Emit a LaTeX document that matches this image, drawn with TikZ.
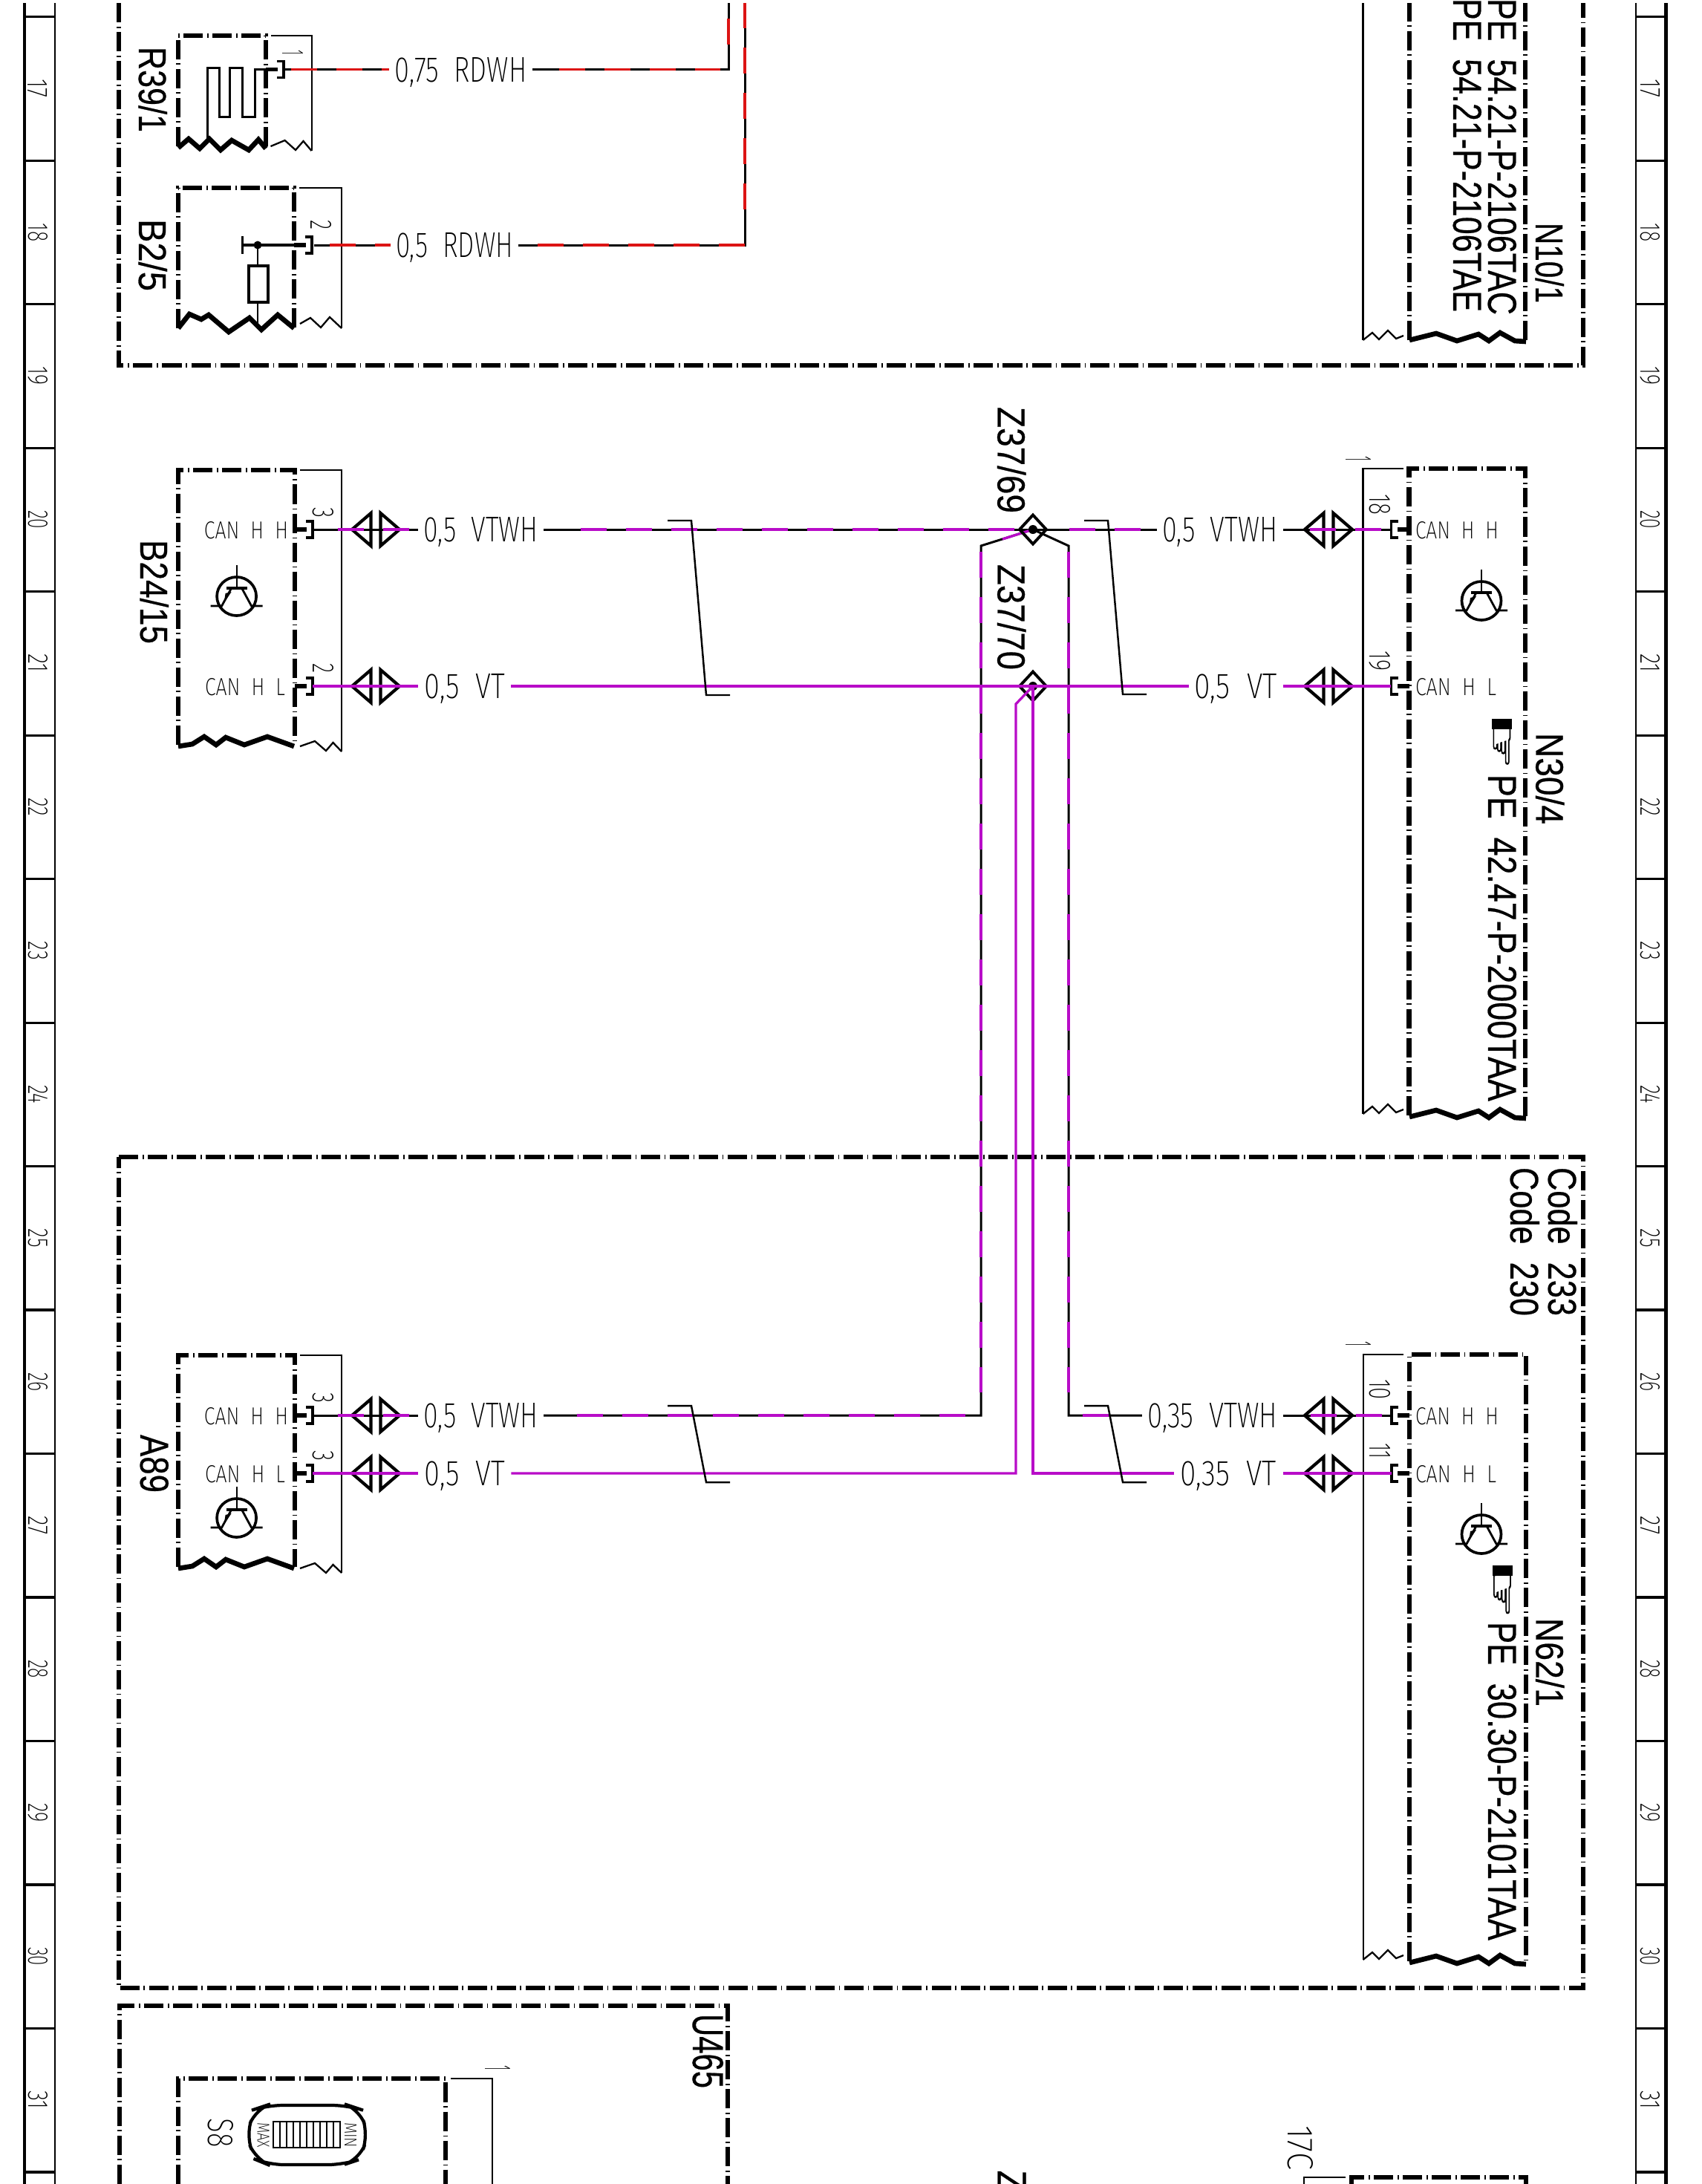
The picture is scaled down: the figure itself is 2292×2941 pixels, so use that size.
\documentclass[tikz,border=0pt]{standalone}
\usepackage{fontspec}
\usepackage{graphicx}
\setmainfont{Liberation Sans}[FakeBold=0.5]
\newfontfamily\thinf{Fira Sans}[UprightFont=* ExtraLight]
\newfontfamily\handf{DejaVu Sans}[FakeBold=1.5]
\newlength\pxu \setlength\pxu{0.01cm}
\definecolor{wv}{HTML}{B80CC8}
\definecolor{wr}{HTML}{DC1414}
\tikzset{
  frameline/.style={line width=1.5pt,dash pattern=on 7.4pt off 1.7pt on .45pt off 1.55pt,line cap=butt},
  compline/.style={line width=1.75pt,dash pattern=on 7.4pt off 1.7pt on .45pt off 1.55pt,line cap=butt},
  thinline/.style={line width=.65pt},
  zigthick/.style={line width=1.9pt,line join=miter},
  zigthin/.style={line width=.65pt,line join=miter},
  wblack/.style={line width=.85pt,black,line join=miter},
  wviolet/.style={line width=.95pt,wv,dash pattern=on 10pt off 7.35pt},
  wred/.style={line width=.95pt,wr,dash pattern=on 10pt off 7.35pt},
  wvsolid/.style={line width=.95pt,wv,line join=miter},
  twistline/.style={line width=.7pt,black,line join=miter},
  flat/.style={inner sep=0pt,outer sep=0pt,text depth=0pt},
  rotlab/.style={flat,rotate=-90},
  wirelab/.style={flat},
}
\newcommand\wl[6]{\node[wirelab,minimum width=#5\pxu] (#1) at (#2,#3) {\thinf\resizebox{#4\pxu}{33\pxu}{#6}};}
\newcommand\canlab[5]{\node[flat] (#1) at (#2,#3) {\thinf\resizebox{#4\pxu}{23\pxu}{#5}};}
\newcommand\rt[6]{\node[rotlab] (#1) at (#2,#3) {\thinf\resizebox{#4\pxu}{#5\pxu}{#6}};}
\newcommand\rb[6]{\node[rotlab] (#1) at (#2,#3) {\resizebox{#4\pxu}{#5\pxu}{#6}};}
\newcommand\pinL[2]{%
  \draw[line width=1.5pt] (#1,#2)--(#1+16,#2);
  \draw[line width=1pt,line join=miter] (#1+15,#2-11)--(#1+24,#2-11)--(#1+24,#2+11)--(#1+15,#2+11);}
\newcommand\pinR[2]{%
  \draw[line width=1.5pt] (#1,#2)--(#1-16,#2);
  \draw[line width=1pt,line join=miter] (#1-15,#2-11)--(#1-24,#2-11)--(#1-24,#2+11)--(#1-15,#2+11);}
\newcommand\dconn[2]{%
  \draw[line width=1.2pt,line join=miter] (#1+25.5,#2-22)--(#1,#2)--(#1+25.5,#2+22)--cycle;
  \draw[line width=1.2pt,line join=miter] (#1+38.5,#2-22)--(#1+64,#2)--(#1+38.5,#2+22)--cycle;}
\newcommand\transistor[2]{%
  \begin{scope}[shift={(#1,#2)}]
    \draw[line width=1.05pt] (0,0) ellipse (26.5 and 26);
    \draw[line width=.6pt] (0,-42)--(0,-11);
    \draw[line width=1pt] (-14,-11)--(14,-11);
    \draw[line width=.8pt] (-7,-11)--(-20,13)--(-35,13);
    \draw[line width=.8pt] (7,-11)--(20,13)--(35,13);
    \fill (-17,9)--(-7,-6)--(-15,-4)--cycle;
  \end{scope}}
\newcommand\leftzig[1]{%
  \draw[zigthick] (240,#1+2)--(259,#1-1)--(275,#1-11)--(291,#1)--(304,#1-10)--(329,#1)--(360,#1-11)--(396,#1+2);}
\newcommand\leftthin[2]{%
  \draw[zigthin] (404,#1+2)--(424,#1-5)--(439,#1+8)--(448.5,#1-3)--(460,#2);}
\newcommand\rightzig[2]{%
  \draw[zigthick] (1898,#1-2)--(1934,#1-11)--(1962,#1-1)--(1991,#1-10)--(2005,#1-1)--(2020,#1-12)--(2040,#1-1)--(2055,#1);
  \draw[zigthin] (1835.5,#2)--(1848,#2-10)--(1857,#2-1)--(1869,#2-13)--(1880,#2-2)--(1890,#2-6);}
\newcommand\junction[1]{%
  \draw[line width=1.1pt,shift={(#1)}] (0,-19.5)--(18,0)--(0,19.5)--(-18,0)--cycle;
  \fill[shift={(#1)}] (0,0) circle (6);}
\newcommand\twist[3]{\draw[twistline] (#1,#2)--(#1+32,#2)--(#1+52,#3)--(#1+84,#3);}
\newcommand\cuff[2]{\fill (#1,#2) rectangle (#1+27,#2+14);}
\begin{document}
\begin{tikzpicture}[x=0.01cm,y=-0.01cm]
\useasboundingbox (0,0) rectangle (2292,2941);
% ---- side rails
\draw[line width=1.4pt] (33,4)--(33,2941);
\draw[line width=.6pt] (74,4)--(74,2941);
\draw[line width=.6pt] (2203,4)--(2203,2941);
\draw[line width=1.4pt] (2243.5,4)--(2243.5,2941);
\foreach \i in {0,...,15}{
  \draw[line width=.9pt] (33,22.7+193.48*\i)--(74,22.7+193.48*\i);
  \draw[line width=.9pt] (2203,22.7+193.48*\i)--(2243.5,22.7+193.48*\i);
}
\foreach \n [count=\i from 0] in {17,18,19,20,21,22,23,24,25,26,27,28,29,30,31}{
  \node[rotlab] (rl\n) at (51,119.4+193.48*\i) {\thinf\resizebox{25\pxu}{26\pxu}{\n}};
  \node[rotlab] (rr\n) at (2222,119.4+193.48*\i) {\thinf\resizebox{25\pxu}{26\pxu}{\n}};
}
% ---- frames
\draw[frameline] (160,4)--(160,492)--(2132,492)--(2132,4);
\draw[frameline] (160,1558)--(2132,1558)--(2132,2677)--(160,2677)--cycle;
\draw[frameline] (161,2941)--(161,2701)--(980,2701)--(980,2941);
% ---- R39/1
\draw[compline] (240,197)--(240,48)--(358,48)--(358,197);
\draw[zigthick] (240,199)--(254,187)--(269,200)--(282,187)--(297,202)--(312,189)--(335,202)--(348,188)--(358,200);
\draw[thinline,line join=miter] (365,48)--(420,48)--(420,203);
\draw[zigthin] (364.5,197)--(383.6,189)--(398,202)--(408.5,190)--(419.5,203);
\draw[line width=.75pt,line join=miter] (279.4,187)--(279.4,91.7)--(295.6,91.7)--(295.6,157.3)--(309.5,157.3)--(309.5,91.7)--(326.4,91.7)--(326.4,157.3)--(343.2,157.3)--(343.2,93.5)--(358,93.5);
\pinL{358}{93.5}
% ---- B2/5
\draw[compline] (240,442)--(240,253)--(396,253)--(396,442);
\draw[zigthick] (240,442)--(255,423)--(271,430)--(281,424)--(308,447)--(336,428)--(352,444)--(374,424)--(396,442);
\draw[thinline,line join=miter] (403,253)--(460,253)--(460,442);
\draw[zigthin] (404,436)--(418,428)--(432,441)--(444,427)--(460,442);
\draw[line width=1.2pt] (326.4,330)--(396,330);
\draw[line width=.85pt] (326.4,318)--(326.4,342);
\fill (347,330) circle (5.5);
\draw[line width=.6pt] (347,330)--(347,358);
\draw[line width=.6pt] (347,407)--(347,443);
\draw[line width=1pt] (335,358) rectangle (361,407);
\pinL{396}{330}
% ---- B24/15
\draw[compline] (240,1003)--(240,633)--(397,633)--(397,1003);
\leftzig{1003}
\draw[thinline,line join=miter] (404,633)--(460,633)--(460,1012);
\leftthin{1003}{1012}
\transistor{318.6}{803}
\pinL{397}{713}\pinL{397}{924}
% ---- A89
\draw[compline] (240,2110)--(240,1825)--(397,1825)--(397,2110);
\leftzig{2110}
\draw[thinline,line join=miter] (404,1825)--(460,1825)--(460,2118);
\leftthin{2110}{2118}
\transistor{318.6}{2044}
\pinL{397}{1906}\pinL{397}{1984}
% ---- N10/1
\draw[compline] (1898,458)--(1898,4);
\draw[compline] (2054,458)--(2054,4);
\draw[thinline] (1835.5,4)--(1835.5,458);
\rightzig{460}{458}
% ---- N30/4
\draw[compline] (1897.5,1502)--(1897.5,631)--(2054,631)--(2054,1504);
\draw[thinline,line join=miter] (1890,631)--(1835.5,631)--(1835.5,1500);
\rightzig{1506}{1500}
\transistor{1995}{809}
\pinR{1897.5}{713}\pinR{1897.5}{924}
% ---- N62/1
\draw[compline] (1898,2641)--(1898,1824)--(2055,1824)--(2055,2643);
\draw[thinline,line join=miter] (1890,1824)--(1836,1824)--(1836,2639);
\rightzig{2645}{2639}
\transistor{1995}{2066}
\pinR{1898}{1906}\pinR{1898}{1984}
% ---- S8
\draw[compline] (240,2941)--(240,2799)--(600,2799)--(600,2941);
\draw[thinline,line join=miter] (607,2799)--(663,2799)--(663,2941);
\draw[line width=1.2pt,rounded corners=6pt] (359,2835)--(469,2835)--(484,2840)--(496,2875)--(484,2908)--(463,2915)--(361,2915)--(344,2908)--(331,2875)--(344,2840)--cycle;
\draw[line width=.75pt] (368,2857) rectangle (458,2892);
\foreach \k in {1,...,9}{\draw[line width=.4pt] (368+9*\k,2857)--(368+9*\k,2892);}
% ---- 17C box
\draw[compline] (1820,2941)--(1820,2932)--(2055,2932)--(2055,2941);
\draw[thinline,line join=miter] (1812,2932)--(1756,2932)--(1756,2941);
% ---- connector symbols
\dconn{474}{713}\dconn{474}{924}\dconn{474}{1906}\dconn{474}{1984}
\dconn{1757}{713}\dconn{1757}{924}\dconn{1757}{1906}\dconn{1757}{1984}
% ---- wire labels
\wl{w1}{620.5}{93.5}{178}{193}{0,75~~RDWH}
\wl{w2}{612}{330}{158}{172}{0,5~~RDWH}
\wl{w3}{647.5}{713}{154}{169}{0,5~~VTWH}
\wl{w4}{625.7}{924}{108}{125.5}{0,5~~VT}
\wl{w5}{1642.8}{713}{155}{169.6}{0,5~~VTWH}
\wl{w6}{1664.3}{924}{111}{126.6}{0,5~~VT}
\wl{w7}{647.5}{1906}{154}{169}{0,5~~VTWH}
\wl{w8}{625.7}{1984}{108}{125.5}{0,5~~VT}
\wl{w9}{1632.8}{1906}{175}{189.7}{0,35~~VTWH}
\wl{w10}{1654.3}{1984}{129}{146.7}{0,35~~VT}
% ---- wire coordinates
\coordinate (Ja) at (1391,713);
\coordinate (Jb) at (1391,924);
\coordinate (pR) at (381,93.5);
\coordinate (pB) at (423,330);
\coordinate (cR) at (981,93.5);
\coordinate (tR) at (981,4);
\coordinate (cB) at (1003,330);
\coordinate (tB) at (1003,4);
\coordinate (p1) at (421,713);
\coordinate (p2) at (421,924);
\coordinate (p3) at (421,1906);
\coordinate (p4) at (421,1984);
\coordinate (q1) at (1873,713);
\coordinate (q2) at (1873,924);
\coordinate (q3) at (1874,1906);
\coordinate (q4) at (1874,1984);
\coordinate (dLa) at (1321,735);
\coordinate (dLb) at (1321,1906);
\coordinate (dRa) at (1439,735);
\coordinate (dRb) at (1439,1906);
\coordinate (dMa) at (1368,948);
\coordinate (dMb) at (1368,1984);
\coordinate (dNb) at (1391,1984);
% ---- red wires
\draw[wblack] (pR)--(w1.west);
\draw[wred] (392,93.5)--(w1.west);
\draw[wblack] (w1.east)--(cR)--(tR);
\draw[wred] (753,93.5)--(970,93.5);
\draw[wred] (981,60)--(981,25);
\draw[wblack] (pB)--(w2.west);
\draw[wred] (444,330)--(w2.west);
\draw[wblack] (w2.east)--(cB)--(tB);
\draw[wred] (724,330)--(cB);
\draw[wred] (1003,282)--(tB);
% ---- VT/WH wires
\draw[wblack] (p1)--(w3.west);
\draw[wviolet] (455,713)--(w3.west);
\draw[wblack] (w3.east)--(Ja);
\draw[wviolet] (781.5,713)--(Ja);
\draw[wblack] (Ja)--(w5.west);
\draw[wviolet] (1439.5,713)--(w5.west);
\draw[wblack] (w5.east)--(q1);
\draw[wviolet] (1764,713)--(q1);
% drops from Z37/69
\draw[wblack] (Ja)--(dLa)--(dLb)--(w7.east);
\draw[wvsolid] (Ja)--(1350,726);
\draw[wviolet] (1321,743)--(1321,1875);
\draw[wviolet] (777,1906)--(1300,1906);
\draw[wblack] (p3)--(w7.west);
\draw[wviolet] (455,1906)--(w7.west);
\draw[wblack] (Ja)--(dRa)--(dRb)--(w9.west);
\draw[wviolet] (1439,743)--(1439,1875);
\draw[wviolet] (1458,1906)--(1493.5,1906);
\draw[wblack] (w9.east)--(q3);
\draw[wviolet] (1765,1906)--(q3);
% ---- junctions
\junction{Ja}\junction{Jb}
% ---- VT wires
\draw[wvsolid] (p2)--(w4.west);
\draw[wvsolid] (w4.east)--(Jb);
\draw[wvsolid] (Jb)--(w6.west);
\draw[wvsolid] (w6.east)--(q2);
\draw[wvsolid] (p4)--(w8.west);
\draw[wvsolid] (w8.east)--(dMb)--(dMa)--(Jb);
\draw[wvsolid] (Jb)--(dNb)--(w10.west);
\draw[wvsolid] (w10.east)--(q4);
% ---- twists
\twist{899}{701}{936}
\twist{1460}{701}{935}
\twist{899}{1893}{1996}
\twist{1460}{1893}{1996}
% ---- can labels
\canlab{c1}{331.5}{713.5}{113}{CAN~~H~~H}
\canlab{c2}{330}{924.5}{108}{CAN~~H~~L}
\canlab{c3}{331.5}{1906.5}{113}{CAN~~H~~H}
\canlab{c4}{330}{1984.5}{108}{CAN~~H~~L}
\canlab{c5}{1962}{713.5}{112}{CAN~~H~~H}
\canlab{c6}{1960.5}{924.5}{109}{CAN~~H~~L}
\canlab{c7}{1962}{1906.5}{112}{CAN~~H~~H}
\canlab{c8}{1960.5}{1984.5}{109}{CAN~~H~~L}
% ---- pin numbers
\rt{n1}{394}{71}{7}{28}{1}
\rt{n2}{432}{303}{13}{28}{2}
\rt{n3}{435}{690}{14}{28}{3}
\rt{n4}{435}{900}{13}{28}{2}
\rt{n5}{435}{1882}{14}{28}{3}
\rt{n6}{435}{1960}{14}{28}{3}
\rt{n7}{1858}{679}{28}{28}{18}
\rt{n8}{1858}{890}{27}{28}{19}
\rt{n9}{1858}{1871}{28}{28}{10}
\rt{n10}{1858}{1954}{22}{28}{11}
\rt{n11}{1829}{618}{7}{34}{1}
\rt{n12}{1829}{1810}{7}{34}{1}
\rt{n13}{670}{2785}{7}{34}{1}
\rt{n14}{1751}{2892}{60}{34}{17C}
\rt{n15}{298}{2872}{39}{34}{S8}
\rt{n16}{354.5}{2875}{34}{16}{MAX}
\rt{n17}{472}{2875}{34}{16}{MIN}
% ---- reference labels
\rb{r1}{206}{120.5}{115}{38}{R39/1}
\rb{r2}{206}{343.5}{97}{38}{B2/5}
\rb{r3}{208}{797}{140}{38}{B24/15}
\rb{r4}{208}{1971}{78}{38}{A89}
\rb{r5}{2087}{354}{108}{38}{N10/1}
\rb{r6}{2023}{211}{426}{38}{PE~~54.21-P-2106TAC}
\rb{r7}{1976}{209}{422}{38}{PE~~54.21-P-2106TAE}
\rb{r8}{2087.5}{1048.5}{123}{38}{N30/4}
\rb{r9}{2023}{1263}{440}{38}{PE~~42.47-P-2000TAA}
\rb{r10}{2087.5}{2238.5}{119}{38}{N62/1}
\rb{r11}{2023}{2398.5}{429}{38}{PE~~30.30-P-2101TAA}
\rb{r12}{1362.5}{619.5}{143}{38}{Z37/69}
\rb{r13}{1362.5}{831}{142}{38}{Z37/70}
\rb{r14}{2104.5}{1672}{200}{39}{Code~~233}
\rb{r15}{2053.5}{1672}{200}{39}{Code~~230}
\rb{r16}{953.5}{2762}{100}{41}{U465}
\rb{r17}{1362.5}{2937}{29}{38}{Z}
% ---- hands
\node[flat] (h1) at (2022.5,1003) {\handf\resizebox{30\pxu}{52\pxu}{\char"261F}};
\cuff{2009}{968}
\node[flat] (h2) at (2023,2145) {\handf\resizebox{30\pxu}{55\pxu}{\char"261F}};
\cuff{2010}{2108}
\end{tikzpicture}
\end{document}
